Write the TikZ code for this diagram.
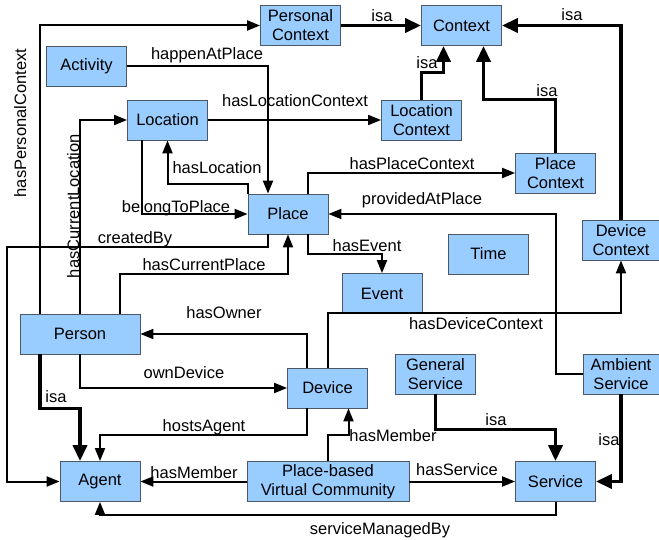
\documentclass[tikz,border=0pt]{standalone}
\usepackage{fontspec}
\setmainfont{Liberation Sans}
\usetikzlibrary{arrows.meta}
\definecolor{boxfill}{HTML}{99CCFF}
\definecolor{boxline}{HTML}{4D5866}

\begin{document}
\begin{tikzpicture}[x=1pt,y=-1pt,
  cls/.style={draw=boxline,fill=boxfill,line width=0.8pt,minimum width=80pt,minimum height=40pt,inner sep=0pt,align=center,font=\fontsize{16.5}{19}\selectfont},
  lbl/.style={inner sep=0pt,text height=12pt,text depth=0pt,font=\fontsize{16.5}{19}\selectfont},
  rel/.style={line width=2pt,-{Triangle[length=13pt,width=10pt]}},
  isa/.style={line width=3.6pt,-{Triangle[length=16pt,width=14pt]}}]
\useasboundingbox (0,0) rectangle (659,540);
\node[cls] (PerCtx) at (300.5,25.5) {Personal\\Context};
\node[cls] (Ctx) at (461.5,25.5) {Context};
\node[cls] (Activity) at (86.5,66) {Activity};
\node[cls] (Location) at (167.5,120) {Location};
\node[cls] (LocCtx) at (421.5,120) {Location\\Context};
\node[cls] (PlcCtx) at (555.5,173) {Place\\Context};
\node[cls] (Place) at (288,214) {Place};
\node[cls,minimum width=78pt] (DevCtx) at (621,240) {Device\\Context};
\node[cls] (Time) at (488.5,254) {Time};
\node[cls] (Event) at (382,293.5) {Event};
\node[cls,minimum width=120pt] (Person) at (80,334) {Person};
\node[cls] (Device) at (327.5,388) {Device};
\node[cls] (GenSrv) at (435.5,374) {General\\Service};
\node[cls,minimum width=76pt] (AmbSrv) at (621,374) {Ambient\\Service};
\node[cls] (Agent) at (100,481.5) {Agent};
\node[cls,minimum width=162pt] (PVC) at (328,481.5) {Place-based\\Virtual Community};
\node[cls] (Service) at (555.5,481.5) {Service};

\draw[rel] ([xshift=-40]Person.north) |- (PerCtx.west);
\draw[isa] (PerCtx.east) -- (Ctx.west);
\draw[rel] (Activity.east) -| ([xshift=-20]Place.north);
\draw[rel] (Location.east) -- (LocCtx.west);
\draw[isa] (LocCtx.north) -- ++(0,-27) -| ([xshift=-18]Ctx.south);
\draw[isa] (PlcCtx.north) -- ++(0,-53) -| ([xshift=22]Ctx.south);
\draw[isa] (DevCtx.north) |- (Ctx.east);
\draw[rel] (Place.north west) -- ++(0,-10) -| (Location.south);
\draw[rel] ([xshift=-26]Location.south) |- (Place.west);
\draw[rel] ([xshift=20]Place.north) |- (PlcCtx.west);
\draw[rel] (AmbSrv.west) -- ++(-27,0) |- (Place.east);
\draw[rel] ([xshift=20]Place.south) -- ++(0,20) -| (Event.north);
\draw[rel] ([xshift=-20]Place.south) -- ++(0,13) -- ++(-261,0) |- (Agent.west);
\draw[rel] ([xshift=40]Person.north) -- ++(0,-40) -| (Place.south);
\draw[rel] (Person.north) |- (Location.west);
\draw[rel] ([xshift=-21]Device.north) |- (Person.east);
\draw[rel] (Person.south) |- (Device.west);
\draw[isa] ([xshift=-40]Person.south) -- ++(0,54) -| ([xshift=-20]Agent.north);
\draw[rel] ([xshift=-21]Device.south) -- ++(0,27) -| (Agent.north);
\draw[rel] (Device.north) -- ++(0,-55) -| (DevCtx.south);
\draw[rel] (PVC.north) -- ++(0,-26) -| ([xshift=21]Device.south);
\draw[rel] (PVC.west) -- (Agent.east);
\draw[rel] (PVC.east) -- (Service.west);
\draw[isa] (GenSrv.south) -- ++(0,35) -| (Service.north);
\draw[isa] (AmbSrv.south) |- (Service.east);
\draw[rel] (Service.south) -- ++(0,13) -| (Agent.south);

\node[lbl,rotate=90] (lPerCtx) at (20,123) {hasPersonalContext};
\node[lbl,rotate=90] (lCurLoc) at (73,206) {hasCurrentLocation};
\node[lbl] (lIsaPer) at (382,16) {isa};
\node[lbl] (lIsaLoc) at (427,63) {isa};
\node[lbl] (lIsaPlc) at (547,91) {isa};
\node[lbl] (lIsaDev) at (572,15) {isa};
\node[lbl] (lHappen) at (207,54) {happenAtPlace};
\node[lbl] (lLocCtx) at (295,101) {hasLocationContext};
\node[lbl] (lHasLoc) at (217,168) {hasLocation};
\node[lbl] (lBelong) at (176,207) {belongToPlace};
\node[lbl] (lPlcCtx) at (412,164) {hasPlaceContext};
\node[lbl] (lProvid) at (422,199) {providedAtPlace};
\node[lbl] (lEvent) at (367,246) {hasEvent};
\node[lbl] (lCreate) at (135,238) {createdBy};
\node[lbl] (lCurPlc) at (204,265) {hasCurrentPlace};
\node[lbl] (lOwner) at (224,313) {hasOwner};
\node[lbl] (lDevCtx) at (476,324) {hasDeviceContext};
\node[lbl] (lOwnDev) at (184,372) {ownDevice};
\node[lbl] (lIsaAg) at (56,396) {isa};
\node[lbl] (lHosts) at (204,425) {hostsAgent};
\node[lbl] (lMemDev) at (393,435) {hasMember};
\node[lbl] (lIsaGen) at (496,419) {isa};
\node[lbl] (lIsaAmb) at (609,439) {isa};
\node[lbl] (lMemAg) at (194,472) {hasMember};
\node[lbl] (lSrv) at (457,469) {hasService};
\node[lbl] (lManage) at (380,528) {serviceManagedBy};
\end{tikzpicture}
\end{document}
